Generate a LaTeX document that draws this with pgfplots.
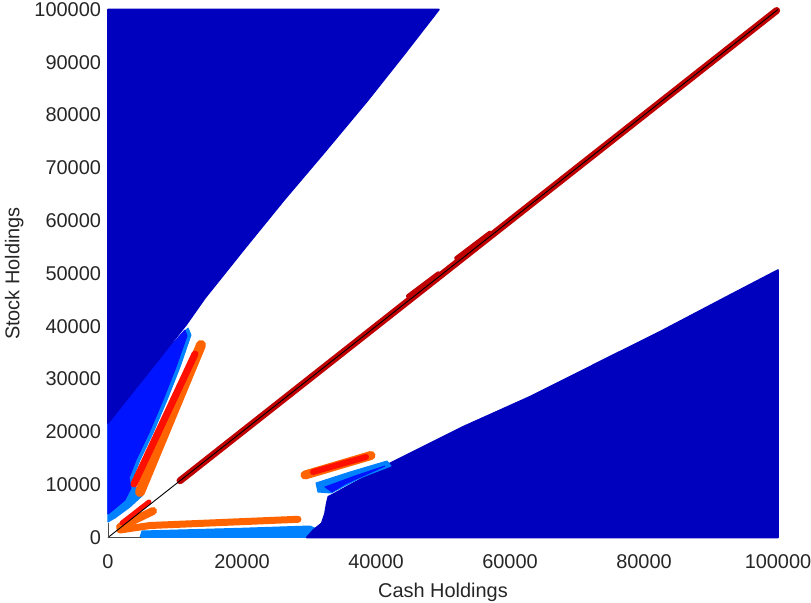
\documentclass[border=0pt]{standalone}
\usepackage{pgfplots}
\pgfplotsset{compat=1.18}
\usepackage{fontspec}
\setmainfont{Liberation Sans}
\definecolor{dblue}{RGB}{0,0,191}
\definecolor{mblue}{RGB}{0,20,255}
\definecolor{lblue}{RGB}{0,130,255}
\definecolor{orng}{RGB}{255,100,0}
\definecolor{rred}{RGB}{255,15,0}
\definecolor{dred}{RGB}{192,0,0}
\definecolor{txt}{RGB}{38,38,38}
\begin{document}
\fontsize{10}{12}\selectfont
\begin{tikzpicture}
\begin{axis}[
  scale only axis, width=335bp, height=264bp,
  xmin=0, xmax=100000, ymin=0, ymax=100000,
  axis line style={draw=none}, major tick length=0pt,
  xtick={0,20000,40000,60000,80000,100000},
  ytick={0,10000,20000,30000,40000,50000,60000,70000,80000,90000,100000},
  xticklabels={0,20000,40000,60000,80000,100000},
  yticklabels={0,10000,20000,30000,40000,50000,60000,70000,80000,90000,100000},
  scaled ticks=false,
  tick label style={font=\fontsize{10}{12}\selectfont, text=txt},
  xticklabel style={yshift=-5bp},
  label style={font=\fontsize{10}{12}\selectfont, text=txt},
  xlabel={Cash Holdings}, ylabel={Stock Holdings},
  xlabel style={at={(axis description cs:0.5,-0.104)}, anchor=center},
  ylabel style={at={(axis description cs:-0.140,0.5)}, anchor=center},
  clip=false, no markers,
]
% bottom light blue band
\addplot[fill=lblue, draw=lblue, line width=0.5bp, line join=round] coordinates {
 (4776,0) (5075,1231) (20000,1750) (30149,2178) (31000,1700) (31500,0)} -- cycle;
% lower-right dark blue region
\addplot[fill=dblue, draw=dblue, line width=0.8bp, line join=round] coordinates {
 (100000,0) (100000,50662) (92834,45928) (82879,39298) (72937,32992) (62984,26666)
 (53028,20984) (43088,14678) (41596,13731) (33387,8049) (32880,7727) (32641,6477)
 (32387,4583) (31895,2689) (30641,1420) (29656,0)} -- cycle;
% blue strip above lower-right boundary
\addplot[fill=lblue, draw=lblue, line width=0.5bp, line join=round] coordinates {
 (31044,10322) (36119,12405) (41641,14488) (42238,13541) (37611,11269) (33283,8428) (31343,8617)} -- cycle;
\addplot[fill=mblue, draw=mblue, line width=0.5bp, line join=round] coordinates {
 (32387,9564) (36865,11647) (41342,13541) (35372,10132) (33432,8617)} -- cycle;
% orange/red strip near (35000,13000)
\addplot[orng, line width=4.5bp, line cap=round] coordinates {(29402,11837) (39253,15530)};
\addplot[rred, line width=3bp, line cap=round] coordinates {(30596,12405) (38507,15246)};
% upper-left light and medium blue regions
\addplot[fill=lblue, draw=lblue, line width=0.5bp, line join=round] coordinates {
 (0,23200) (11940,39677) (12388,38351) (10746,32291) (8806,26041) (6716,19792)
 (4776,14678) (3731,11269) (4179,9564) (5224,8049) (3284,5776) (1045,3693) (0,2936)} -- cycle;
\addplot[fill=mblue, draw=mblue, line width=0.5bp, line join=round] coordinates {
 (0,23200) (11492,39298) (11791,38162) (10149,32291) (8209,26041) (6119,19792)
 (4179,14678) (3134,11269) (3433,9375) (2537,7102) (597,5019) (0,4451)} -- cycle;
% upper-left dark blue region
\addplot[fill=dblue, draw=dblue, line width=0.8bp, line join=round] coordinates {
 (0,100000) (49400,100000) (44200,91500) (38805,82858) (32600,73400) (26268,63920)
 (20300,54600) (14477,45359) (11642,40246) (0,21685)} -- cycle;
% steep orange/red strip
\addplot[orng, line width=5bp, line cap=round] coordinates {(13880,36458) (4776,8617)};
\addplot[rred, line width=3.5bp, line cap=round] coordinates {(12985,34754) (3880,10132)};
% low orange band
\addplot[orng, line width=3.5bp, line cap=round, line join=round] coordinates {(1791,1420) (6269,2273) (28358,3447)};
% short diagonal band near origin
\addplot[orng, line width=4bp, line cap=round] coordinates {(1791,1989) (6716,5019)};
\addplot[rred, line width=2.5bp, line cap=round] coordinates {(2090,2746) (6119,6723)};
% main diagonal band
\addplot[dred, line width=3.5bp, line cap=round] coordinates {(10746,10746) (99800,99800)};
\addplot[dred, line width=2.2bp, line cap=round] coordinates {(44800,45700) (49300,50000)};
\addplot[dred, line width=2.2bp, line cap=round] coordinates {(52000,52900) (57000,57700)};
% black lines
\addplot[black, line width=0.45bp] coordinates {(0,0) (100000,100000)};
\addplot[black!70, line width=0.45bp] coordinates {(0,2800) (0,0) (5000,0)};
\end{axis}
\pgfresetboundingbox
\path ([shift={(-54bp,-32.75bp)}]current axis.south west) rectangle ([shift={(16.5bp,4.75bp)}]current axis.north east);
\end{tikzpicture}
\end{document}
